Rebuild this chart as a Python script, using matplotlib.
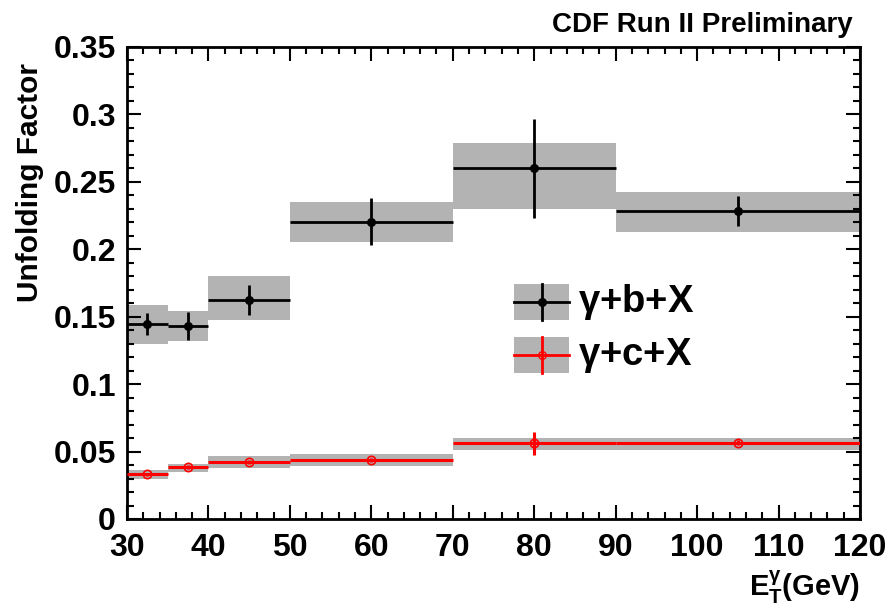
import numpy as np
import matplotlib
matplotlib.use("Agg")
import matplotlib.pyplot as plt
from matplotlib.ticker import MultipleLocator

plt.rcParams['font.family'] = ['Liberation Sans', 'DejaVu Sans']
plt.rcParams['mathtext.fontset'] = 'custom'
plt.rcParams['mathtext.rm'] = 'Liberation Sans:bold'
plt.rcParams['mathtext.bf'] = 'Liberation Sans:bold'
plt.rcParams['mathtext.it'] = 'Liberation Sans:bold'

# ── data ──────────────────────────────────────────────────────────────────────
bin_lo = np.array([30, 35, 40, 50, 70, 90])
bin_hi = np.array([35, 40, 50, 70, 90, 120])
bin_mid = np.array([32.5, 37.5, 45, 60, 80, 105])

b_val   = np.array([0.1445, 0.1430, 0.1625, 0.2205, 0.2600, 0.2285])
b_stat  = np.array([0.0083, 0.0103, 0.0110, 0.0175, 0.0366, 0.0110])
b_syslo = np.array([0.1300, 0.1320, 0.1475, 0.2055, 0.2295, 0.2125])
b_syshi = np.array([0.1590, 0.1540, 0.1800, 0.2350, 0.2790, 0.2425])

c_val   = np.array([0.0330, 0.0385, 0.0420, 0.0435, 0.0560, 0.0565])
c_stat  = np.array([0.0010, 0.0012, 0.0015, 0.0015, 0.0084, 0.0020])
c_syslo = np.array([0.0295, 0.0350, 0.0380, 0.0395, 0.0510, 0.0515])
c_syshi = np.array([0.0360, 0.0410, 0.0465, 0.0480, 0.0600, 0.0600])

BAND = "#b3b3b3"

fig = plt.figure(figsize=(8.86, 6.08), dpi=100)
ax = fig.add_axes([0.1433, 0.1464, 0.8274, 0.7763])

for lo, hi, slo, shi in zip(bin_lo, bin_hi, b_syslo, b_syshi):
    ax.fill_between([lo, hi], slo, shi, color=BAND, lw=0, zorder=1)
for lo, hi, slo, shi in zip(bin_lo, bin_hi, c_syslo, c_syshi):
    ax.fill_between([lo, hi], slo, shi, color=BAND, lw=0, zorder=1)

xerr = [bin_mid - bin_lo, bin_hi - bin_mid]
ax.errorbar(bin_mid, b_val, xerr=xerr, yerr=b_stat, fmt='o', color='black',
            ms=5.5, elinewidth=2, capsize=0, zorder=3)
ax.errorbar(bin_mid, c_val, xerr=xerr, yerr=c_stat, fmt='o', color='red',
            mfc='none', mec='red', mew=1.2, ms=6, elinewidth=2.2,
            capsize=0, zorder=3)

ax.set_xlim(30, 120)
ax.set_ylim(0, 0.35)
ax.xaxis.set_major_locator(MultipleLocator(10))
ax.xaxis.set_minor_locator(MultipleLocator(2))
ax.yaxis.set_minor_locator(MultipleLocator(0.01))
ax.set_yticks([0, 0.05, 0.1, 0.15, 0.2, 0.25, 0.3, 0.35])
ax.set_yticklabels(["0", "0.05", "0.1", "0.15", "0.2", "0.25", "0.3", "0.35"])
ax.tick_params(which='both', direction='in', top=True, right=True,
               labelsize=23, width=1.5)
ax.tick_params(which='major', length=10)
ax.tick_params(which='minor', length=5)
ax.tick_params(axis='x', pad=10)
ax.tick_params(axis='y', pad=8)
for lab in ax.get_xticklabels() + ax.get_yticklabels():
    lab.set_fontweight('bold')
for sp in ax.spines.values():
    sp.set_linewidth(2)

fig.text(0.034, 0.896, "Unfolding Factor", rotation=90, ha='center',
         va='top', fontsize=21.5, fontweight='bold')
fig.text(0.9707, 0.004, r"$\mathrm{E}_{\mathrm{T}}^{\gamma}$(GeV)",
         ha='right', va='bottom', fontsize=21, fontweight='bold')
fig.text(0.962, 0.937, "CDF Run II Preliminary", ha='right', va='bottom',
         fontsize=20, fontweight='bold')

# ── legend (drawn by hand, ROOT style) ────────────────────────────────────────
tr = ax.transAxes
for y0, y1, col, face in [(0.4216, 0.498, 'black', 'black'),
                          (0.309, 0.3856, 'red', 'none')]:
    ax.fill_between([0.528, 0.603], y0, y1, color=BAND, lw=0,
                    transform=tr, zorder=4)
    ym = 0.5 * (y0 + y1)
    xm = 0.5 * (0.528 + 0.603)
    ax.plot([0.528, 0.603], [ym, ym], color=col, lw=2, transform=tr, zorder=5)
    ax.plot([xm, xm], [y0, y1], color=col, lw=2, transform=tr, zorder=5)
    ax.plot([xm], [ym], 'o', color=col, mfc=face, mec=col, ms=5.5,
            transform=tr, zorder=6)
ax.text(0.615, 0.46, r"$\gamma$+b+X", transform=tr, fontsize=27.5,
        fontweight='bold', va='center', ha='left')
ax.text(0.615, 0.347, r"$\gamma$+c+X", transform=tr, fontsize=27.5,
        fontweight='bold', va='center', ha='left')

fig.savefig("out.png", dpi=100)
